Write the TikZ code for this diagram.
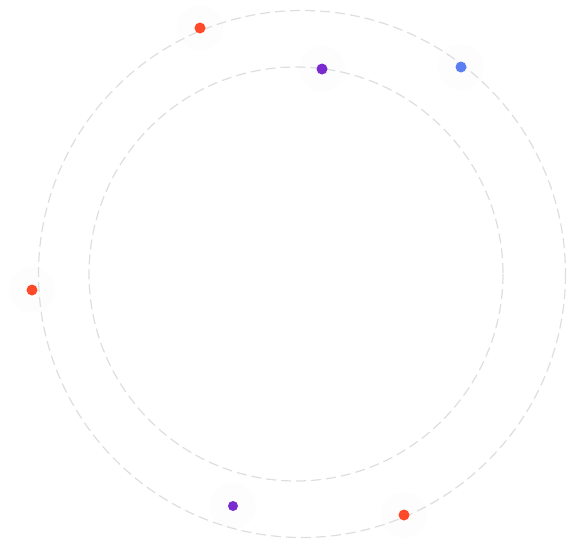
\documentclass[tikz,border=0pt]{standalone}
\usepackage{tikz}
\definecolor{ringgray}{HTML}{DEDEDE}
\definecolor{dotorange}{HTML}{FF4A2A}
\definecolor{dotpurple}{HTML}{7A2BCF}
\definecolor{dotblue}{HTML}{5A7FF2}
\definecolor{halogray}{HTML}{FDFDFD}
\tikzset{
  ring/.style={ringgray, line width=1.2pt, dash pattern=on 10pt off 5pt},
  halo/.style={circle, fill=halogray, minimum size=46pt, inner sep=0pt},
  dot/.style={circle, fill=#1, minimum size=11pt, inner sep=0pt}
}
\begin{document}
\begin{tikzpicture}[x=1pt, y=-1pt]
  \useasboundingbox (0,0) rectangle (568,554);
  % 光の輪
  \foreach \p in {(200,28),(322,69),(461,67),(32,290),(233,506),(404,515)}
    \node[halo] at \p {};

  % 円
  \draw[ring] (302,274) circle (263.5);
  \draw[ring] (296,274) circle (207);

  % 点
  \node[dot=dotorange] (o1) at (200,28) {};
  \node[dot=dotpurple] (p1) at (322,69) {};
  \node[dot=dotblue]   (b1) at (461,67) {};
  \node[dot=dotorange] (o2) at (32,290) {};
  \node[dot=dotpurple, minimum size=10pt] (p2) at (233,506) {};
  \node[dot=dotorange] (o3) at (404,515) {};
\end{tikzpicture}
\end{document}
